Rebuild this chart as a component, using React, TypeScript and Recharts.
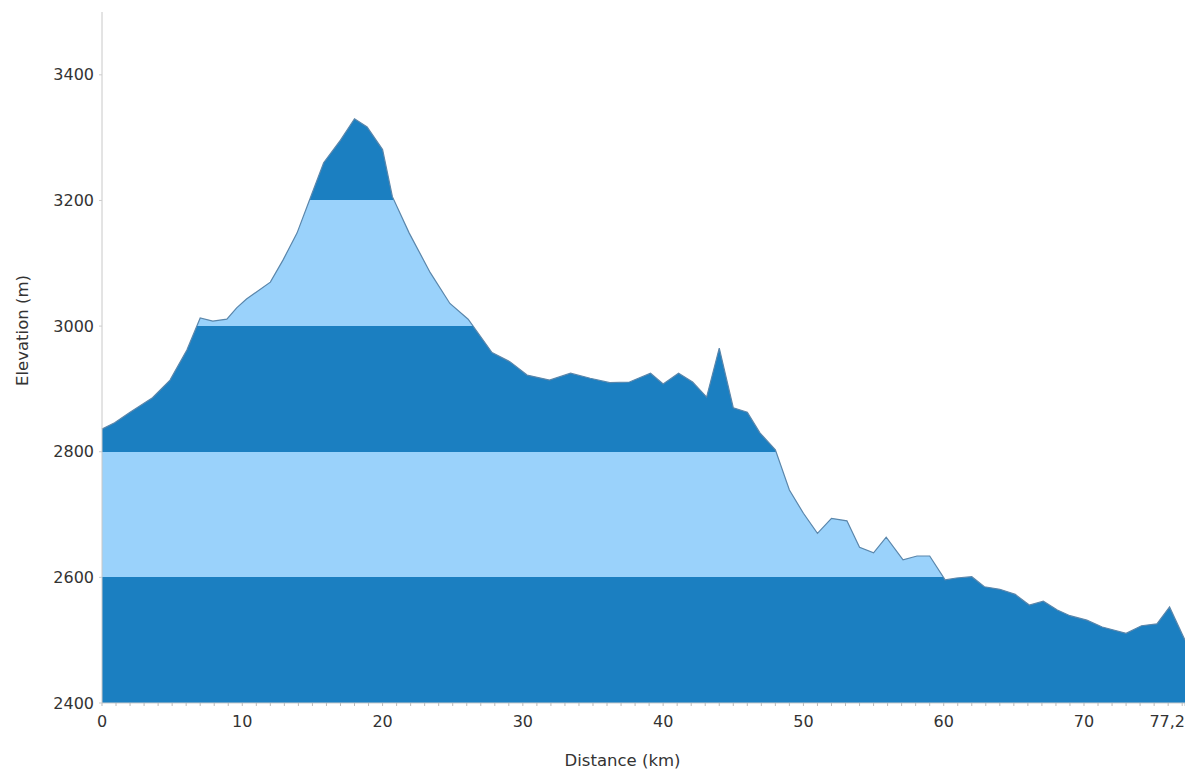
import { AreaChart, Area, XAxis, YAxis } from "recharts";

const DISTANCE = [
  0, 0.9, 2.0, 3.6, 4.85, 6.05, 7.0, 7.9, 8.9, 9.6, 10.3, 12.0, 12.9, 13.9, 14.8, 15.8, 17.0, 18.0, 18.9,
  20.0, 20.7, 21.9, 23.4, 24.8, 26.1, 27.8, 29.1, 30.3, 31.9, 33.4, 34.8, 36.2, 37.6, 39.1, 40.0, 41.1,
  42.1, 43.1, 44.0, 45.0, 46.0, 46.9, 48.0, 49.0, 50.0, 51.0, 52.0, 53.1, 54.0, 55.0, 55.9, 57.1, 58.1,
  59.0, 60.1, 60.9, 62.0, 62.9, 64.0, 65.1, 66.1, 67.1, 68.1, 69.0, 70.2, 71.3, 73.0, 74.1, 75.2, 76.1, 77.2,
];
const ELEVATION = [
  2836, 2846, 2863, 2886, 2914, 2962, 3013, 3008, 3011, 3029, 3043, 3070, 3105, 3148, 3201, 3260, 3296, 3330, 3317,
  3281, 3206, 3148, 3085, 3036, 3011, 2958, 2943, 2922, 2914, 2925, 2917, 2910, 2911, 2925, 2908, 2925,
  2911, 2887, 2965, 2870, 2863, 2830, 2803, 2739, 2702, 2670, 2694, 2690, 2648, 2639, 2664, 2628, 2634,
  2634, 2596, 2599, 2601, 2585, 2581, 2573, 2556, 2562, 2548, 2539, 2532, 2521, 2511, 2523, 2526, 2553, 2500,
];

const X_MAJOR = [0, 10, 20, 30, 40, 50, 60, 70, 77.2];
const X_LABELS = ["0", "10", "20", "30", "40", "50", "60", "70", "77,2"];
const Y_TICKS = [2400, 2600, 2800, 3000, 3200, 3400];
// band edges (m) and their colours, bottom to top
const BAND_EDGES = [2400, 2600, 2800, 3000, 3200];
const BAND_COLORS = ["#1b7fc1", "#9ad2fb", "#1b7fc1", "#9ad2fb", "#1b7fc1"];

const Y_MIN = 2400;
const Y_MAX = 3500;
const X_MAX = 77.2;

const data = DISTANCE.map((d, i) => ({ km: d, elev: ELEVATION[i] }));
const minorTicks = Array.from({ length: 78 }, (_, i) => i).concat([X_MAX]);

const FONT = "'DejaVu Sans', Verdana, sans-serif";
const TEXT = "#333333";

function XTick(props: any) {
  const { x, y, payload } = props;
  const idx = X_MAJOR.indexOf(payload.value);
  if (idx < 0) return null;
  const last = idx === X_MAJOR.length - 1;
  return (
    <text
      x={x}
      y={y}
      dy={18}
      dx={last ? 0 : 0}
      textAnchor={last ? "end" : "middle"}
      fill={TEXT}
      fontSize={16}
      fontFamily={FONT}
    >
      {X_LABELS[idx]}
    </text>
  );
}

export default function App() {
  const peak = Math.max(...ELEVATION);
  const span = peak - Y_MIN;
  // hard colour stops, top of the area = offset 0
  const stops: { offset: number; color: string }[] = [];
  for (let i = BAND_EDGES.length - 1; i >= 0; i--) {
    const top = i === BAND_EDGES.length - 1 ? peak : BAND_EDGES[i + 1];
    const bottom = BAND_EDGES[i];
    const o1 = Math.max(0, Math.min(1, (peak - top) / span));
    const o2 = Math.max(0, Math.min(1, (peak - bottom) / span));
    stops.push({ offset: o1, color: BAND_COLORS[i] });
    stops.push({ offset: o2, color: BAND_COLORS[i] });
  }

  return (
    <AreaChart
      width={1185}
      height={764}
      data={data}
      margin={{ top: 4, right: 8, bottom: 0, left: 0 }}
    >
      <defs>
        <linearGradient id="bands" x1="0" y1="0" x2="0" y2="1">
          {stops.map((s, i) => (
            <stop key={i} offset={s.offset} stopColor={s.color} />
          ))}
        </linearGradient>
      </defs>
      <XAxis
        dataKey="km"
        type="number"
        domain={[0, X_MAX]}
        ticks={minorTicks}
        interval={0}
        height={69}
        tick={<XTick />}
        tickSize={3}
        tickMargin={3}
        tickLine={{ stroke: "#bbbbbb" }}
        axisLine={{ stroke: "#cccccc" }}
        label={{
          content: (p: any) => {
            const vb = p.viewBox;
            return (
              <text
                x={vb.x + vb.width / 2 - 21}
                y={vb.y + 63}
                textAnchor="middle"
                fill={TEXT}
                fontSize={16.5}
                fontFamily={FONT}
              >
                Distance (km)
              </text>
            );
          },
        }}
      />
      <YAxis
        type="number"
        domain={[Y_MIN, Y_MAX]}
        ticks={Y_TICKS}
        width={94}
        tickSize={3}
        tickMargin={5}
        tickLine={{ stroke: "#cccccc" }}
        axisLine={{ stroke: "#c8c8c8" }}
        tick={{ fill: TEXT, fontSize: 16, fontFamily: FONT }}
        label={{
          content: (p: any) => {
            const vb = p.viewBox;
            const cx = vb.x + 14;
            const cy = vb.y + vb.height / 2 - 27;
            return (
              <text
                x={cx}
                y={cy}
                transform={`rotate(-90 ${cx} ${cy})`}
                textAnchor="middle"
                dominantBaseline="central"
                fill={TEXT}
                fontSize={16.5}
                fontFamily={FONT}
              >
                Elevation (m)
              </text>
            );
          },
        }}
      />
      <Area
        type="linear"
        dataKey="elev"
        stroke="#5a86ab"
        strokeWidth={1.2}
        fill="url(#bands)"
        fillOpacity={1}
        isAnimationActive={false}
        dot={false}
        activeDot={false}
      />
    </AreaChart>
  );
}
